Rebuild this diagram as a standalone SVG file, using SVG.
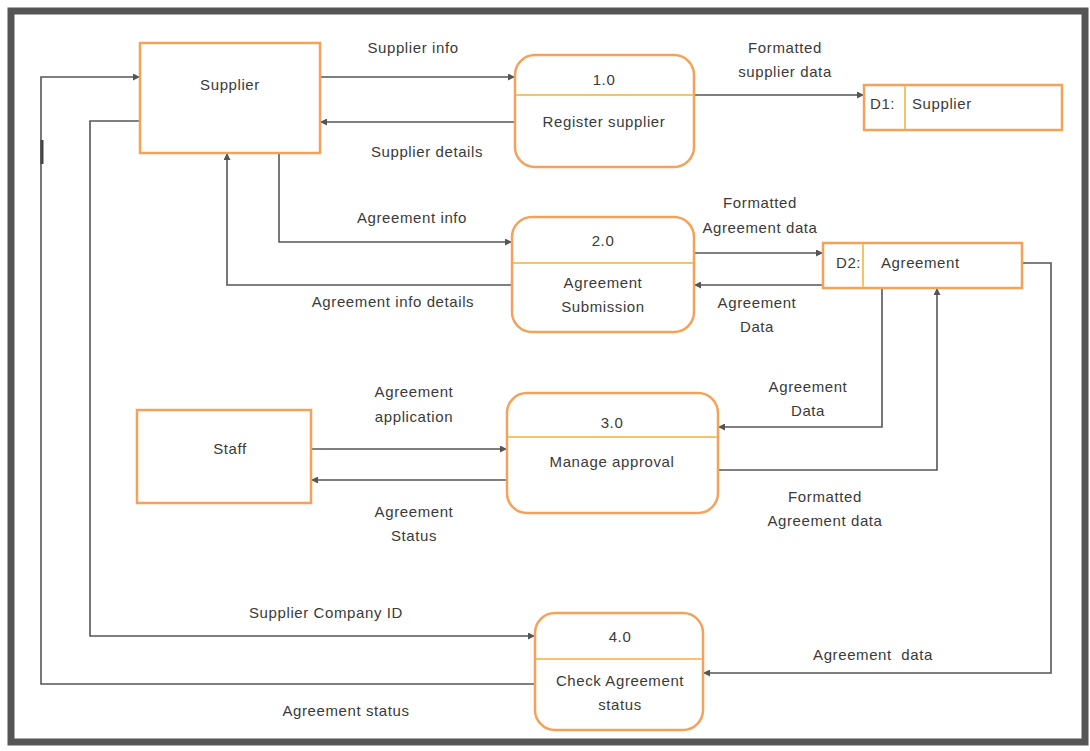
<svg xmlns="http://www.w3.org/2000/svg" width="1090" height="751" viewBox="0 0 1090 751">
<style>
text{font-family:"Liberation Sans",Arial,sans-serif;font-size:15px;letter-spacing:0.6px;fill:#3a3a3a}
.c{text-anchor:middle}
.ent{fill:#fff;stroke:#F4A25A;stroke-width:2.5}
.proc{fill:#fff;stroke:#F4A25A;stroke-width:2.5}
.div{stroke:#F5C46A;stroke-width:2}
.flow{fill:none;stroke:#555;stroke-width:1.6}
</style>
<defs>
<marker id="arr" viewBox="0 0 10 10" refX="10" refY="5" markerWidth="9" markerHeight="7" markerUnits="userSpaceOnUse" orient="auto">
<path d="M0,0 L10,5 L0,10 z" fill="#555"/>
</marker>
</defs>
<rect x="0" y="0" width="1090" height="751" fill="#fff"/>
<rect id="frame" x="11" y="11" width="1074" height="731" fill="none" stroke="#555" stroke-width="7"/>

<g id="connectors">
<path class="flow" d="M320,77 H515" marker-end="url(#arr)"/>
<path class="flow" d="M515,122 H320" marker-end="url(#arr)"/>
<path class="flow" d="M694,95 H864" marker-end="url(#arr)"/>
<path class="flow" d="M279,153 V242 H512" marker-end="url(#arr)"/>
<path class="flow" d="M512,285 H227 V153" marker-end="url(#arr)"/>
<path class="flow" d="M694,253 H823" marker-end="url(#arr)"/>
<path class="flow" d="M823,285 H694" marker-end="url(#arr)"/>
<path class="flow" d="M882,288 V427 H718" marker-end="url(#arr)"/>
<path class="flow" d="M718,470 H937 V288" marker-end="url(#arr)"/>
<path class="flow" d="M311,449 H507" marker-end="url(#arr)"/>
<path class="flow" d="M507,480 H311" marker-end="url(#arr)"/>
<path class="flow" d="M1022,263 H1051 V673 H703" marker-end="url(#arr)"/>
<path class="flow" d="M140,121 H90 V636 H535" marker-end="url(#arr)"/>
<path class="flow" d="M535,684 H41 V77 H140" marker-end="url(#arr)"/>
<line x1="42" y1="140" x2="42" y2="164" stroke="#444" stroke-width="3"/>
<text class="c" x="413" y="53">Supplier info</text>
<text class="c" x="427" y="157">Supplier details</text>
<text class="c" x="785" y="53">Formatted</text>
<text class="c" x="785" y="77">supplier data</text>
<text class="c" x="412" y="223">Agreement info</text>
<text class="c" x="393" y="307">Agreement info details</text>
<text class="c" x="760" y="208">Formatted</text>
<text class="c" x="760" y="233">Agreement data</text>
<text class="c" x="757" y="308">Agreement</text>
<text class="c" x="757" y="332">Data</text>
<text class="c" x="808" y="392">Agreement</text>
<text class="c" x="808" y="416">Data</text>
<text class="c" x="825" y="502">Formatted</text>
<text class="c" x="825" y="526">Agreement data</text>
<text class="c" x="414" y="397">Agreement</text>
<text class="c" x="414" y="422">application</text>
<text class="c" x="414" y="517">Agreement</text>
<text class="c" x="414" y="541">Status</text>
<text class="c" x="326" y="618">Supplier Company ID</text>
<text class="c" x="873" y="660" xml:space="preserve">Agreement  data</text>
<text class="c" x="346" y="716">Agreement status</text>
</g>

<g id="supplier">
<rect class="ent" x="140" y="43" width="180" height="110"/>
<text class="c" x="230" y="90">Supplier</text>
</g>

<g id="p1">
<rect class="proc" x="515" y="55" width="179" height="112" rx="20"/>
<line class="div" x1="516" y1="95" x2="693" y2="95"/>
<text class="c" x="604" y="85">1.0</text>
<text class="c" x="604" y="127">Register supplier</text>
</g>

<g id="d1">
<rect class="ent" x="864" y="85" width="198" height="45"/>
<line class="div" x1="905" y1="86" x2="905" y2="129"/>
<text x="870" y="109">D1:</text>
<text x="912" y="109">Supplier</text>
</g>

<g id="p2">
<rect class="proc" x="512" y="217" width="182" height="115" rx="20"/>
<line class="div" x1="513" y1="263" x2="693" y2="263"/>
<text class="c" x="603" y="246">2.0</text>
<text class="c" x="603" y="288">Agreement</text>
<text class="c" x="603" y="312">Submission</text>
</g>

<g id="d2">
<rect class="ent" x="823" y="243" width="199" height="45"/>
<line class="div" x1="863" y1="244" x2="863" y2="287"/>
<text x="836" y="268">D2:</text>
<text x="881" y="268">Agreement</text>
</g>

<g id="staff">
<rect class="ent" x="137" y="410" width="174" height="93"/>
<text class="c" x="230" y="454">Staff</text>
</g>

<g id="p3">
<rect class="proc" x="507" y="393" width="211" height="120" rx="20"/>
<line class="div" x1="508" y1="437" x2="717" y2="437"/>
<text class="c" x="612" y="428">3.0</text>
<text class="c" x="612" y="467">Manage approval</text>
</g>

<g id="p4">
<rect class="proc" x="535" y="613" width="168" height="117" rx="20"/>
<line class="div" x1="536" y1="659" x2="702" y2="659"/>
<text class="c" x="620" y="642">4.0</text>
<text class="c" x="620" y="686">Check Agreement</text>
<text class="c" x="620" y="710">status</text>
</g>
</svg>
